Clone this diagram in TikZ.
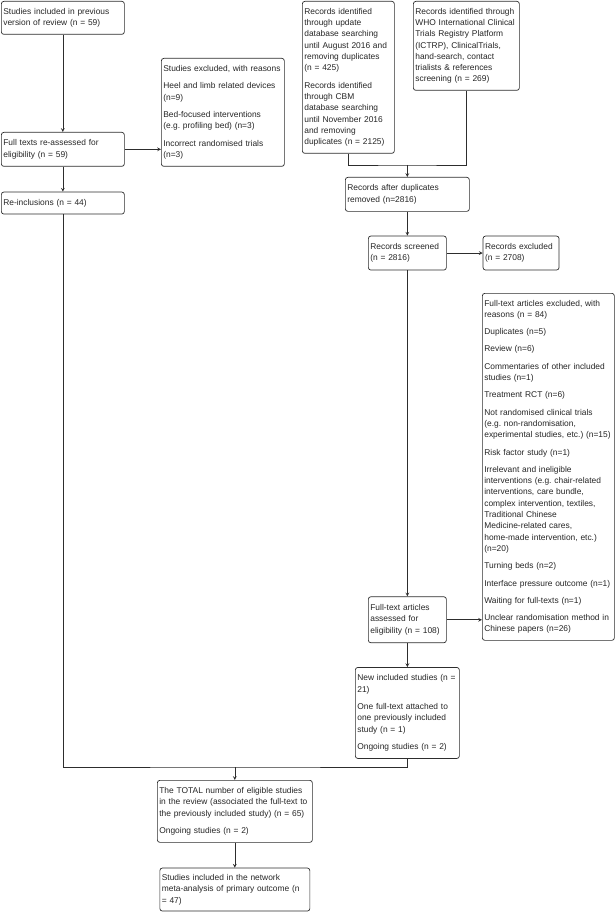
\documentclass[tikz,border=0pt]{standalone}
\usepackage{fontspec}
\usepackage{tikz}
\usetikzlibrary{shapes,arrows,positioning}
\newfontfamily\flowfont{Liberation Sans}
\definecolor{flowgray}{RGB}{45,45,45}

\begin{document}
\begin{tikzpicture}[x=1pt, y=-1pt,
    box/.style={rectangle, draw=flowgray, line width=0.7pt, rounded corners=2.5pt,
                fill=white, align=left, inner xsep=2pt, inner ysep=3pt,
                text=black!85, font=\flowfont\fontsize{8.4}{11.3}\selectfont\frenchspacing},
    line/.style={draw=flowgray, line width=0.7pt},
    arrow/.style={line, ->, >=stealth}]

\useasboundingbox (0,0) rectangle (615,912);

\node[box, anchor=north west, text width=119pt, minimum height=33pt] (prev) at (1,1) {
    Studies included in previous\\
    version of review (n = 59)};

\node[box, anchor=north west, text width=119pt, minimum height=34pt] (full) at (1,132) {
    Full texts re-assessed for\\
    eligibility (n = 59)};

\node[box, below=25pt of full, text width=119pt, minimum height=22pt] (reinc) {
    Re-inclusions (n = 44)};

\node[box, anchor=north west, text width=119pt, minimum height=108pt] (excl) at (161,58) {
    Studies excluded, with reasons\\[6pt]
    Heel and limb related devices\\
    (n=9)\\[6pt]
    Bed-focused interventions\\
    (e.g. profiling bed) (n=3)\\[6pt]
    Incorrect randomised trials\\
    (n=3)};

\node[box, anchor=north west, text width=88pt, minimum height=152pt] (update) at (302,1) {
    Records identified\\
    through update\\
    database searching\\
    until August 2016 and\\
    removing duplicates\\
    (n = 425)\\[6pt]
    Records identified\\
    through CBM\\
    database searching\\
    until November 2016\\
    and removing\\
    duplicates (n = 2125)};

\node[box, anchor=north west, text width=102pt, minimum height=89pt] (who) at (413,1) {
    Records identified through\\
    WHO International Clinical\\
    Trials Registry Platform\\
    (ICTRP), ClinicalTrials,\\
    hand-search, contact\\
    trialists \& references\\
    screening (n = 269)};

\node[box, anchor=north west, text width=120pt, minimum height=34pt] (afterdup) at (345,177) {
    Records after duplicates\\
    removed (n=2816)};

\node[box, below=24pt of afterdup, text width=74pt, minimum height=34pt] (screened) {
    Records screened\\
    (n = 2816)};

\node[box, right=36pt of screened, text width=72pt, minimum height=34pt] (recexcl) {
    Records excluded\\
    (n = 2708)};

\node[box, anchor=north west, text width=128pt, minimum height=347pt] (ftexcl) at (482,293) {
    Full-text articles excluded, with\\
    reasons (n = 84)\\[6pt]
    Duplicates (n=5)\\[6pt]
    Review (n=6)\\[6pt]
    Commentaries of other included\\
    studies (n=1)\\[6pt]
    Treatment RCT (n=6)\\[6pt]
    Not randomised clinical trials\\
    (e.g. non-randomisation,\\
    experimental studies, etc.) (n=15)\\[6pt]
    Risk factor study (n=1)\\[6pt]
    Irrelevant and ineligible\\
    interventions (e.g. chair-related\\
    interventions, care bundle,\\
    complex intervention, textiles,\\
    Traditional Chinese\\
    Medicine-related cares,\\
    home-made intervention, etc.)\\
    (n=20)\\[6pt]
    Turning beds (n=2)\\[6pt]
    Interface pressure outcome (n=1)\\[6pt]
    Waiting for full-texts (n=1)\\[6pt]
    Unclear randomisation method in\\
    Chinese papers (n=26)};

\node[box, below=326pt of screened, text width=74pt, minimum height=46pt] (assessed) {
    Full-text articles\\
    assessed for\\
    eligibility (n = 108)};

\node[box, below=24pt of assessed, text width=100pt, minimum height=91pt] (newinc) {
    New included studies (n =\\
    21)\\[6pt]
    One full-text attached to\\
    one previously included\\
    study (n = 1)\\[6pt]
    Ongoing studies (n = 2)};

\node[box, anchor=north west, text width=151pt, minimum height=62pt] (total) at (157,780) {
    The TOTAL number of eligible studies\\
    in the review (associated the full-text to\\
    the previously included study) (n = 65)\\[6pt]
    Ongoing studies (n = 2)};

\node[box, below=25pt of total, text width=146pt, minimum height=43pt] (final) {
    Studies included in the network\\
    meta-analysis of primary outcome (n\\
    {=} 47)};

\coordinate[above=12pt of afterdup] (jtop);
\coordinate[above=13pt of total] (jbot);

\draw[arrow] (prev) -- (full);
\draw[arrow] (full) -- (full -| excl.west);
\draw[arrow] (full) -- (reinc);
\draw[line] (update.south) |- (jtop) -| (who.south);
\draw[arrow] (jtop) -- (afterdup);
\draw[arrow] (afterdup) -- (screened);
\draw[arrow] (screened) -- (recexcl);
\draw[arrow] (screened) -- (assessed);
\draw[arrow] (assessed) -- (assessed -| ftexcl.west);
\draw[arrow] (assessed) -- (newinc);
\draw[line] (reinc.south) |- (jbot) -| (newinc.south);
\draw[arrow] (jbot) -- (total);
\draw[arrow] (total) -- (final);

\end{tikzpicture}
\end{document}
